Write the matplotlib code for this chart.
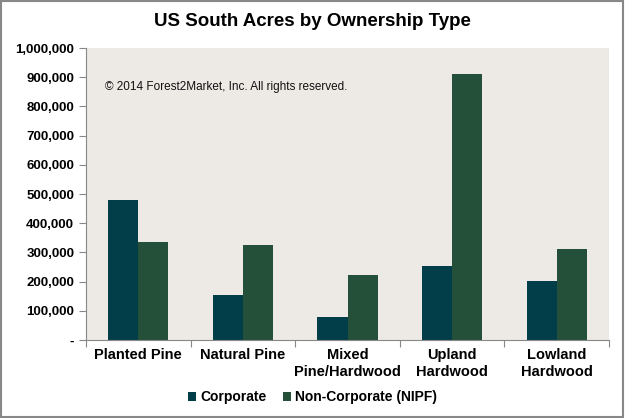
import numpy as np
import matplotlib
matplotlib.use('Agg')
from matplotlib import pyplot as plt
from matplotlib.patches import Rectangle
from matplotlib.ticker import FuncFormatter

# 数据
categories = ['Planted Pine', 'Natural Pine', 'Mixed\nPine/Hardwood', 'Upland\nHardwood', 'Lowland\nHardwood']
corporate = [478000, 154000, 78000, 253000, 202000]
non_corporate = [336000, 324000, 222000, 911000, 311000]
series_names = ['Corporate', 'Non-Corporate (NIPF)']
y_ticks = np.arange(0, 1000001, 100000)

plt.rcParams['font.family'] = ['Liberation Sans', 'DejaVu Sans']

fig = plt.figure(figsize=(6.25, 4.18), dpi=100)
ax = fig.add_axes([0.1376, 0.1866, 0.8368, 0.6984])
ax.set_facecolor('#EDEAE6')

x = np.arange(len(categories))
w = 0.287
ax.bar(x - w / 2, corporate, w, color='#023E4A', label=series_names[0])
ax.bar(x + w / 2, non_corporate, w, color='#24503A', label=series_names[1])

ax.set_xlim(-0.5, len(categories) - 0.5)
ax.set_ylim(0, 1000000)
ax.set_yticks(y_ticks)
ax.yaxis.set_major_formatter(FuncFormatter(lambda v, p: '-' if v == 0 else f'{int(v):,}'))
ax.tick_params(axis='y', labelsize=9.5, length=5, color='#888888', direction='out')
for lb in ax.get_yticklabels():
    lb.set_fontweight('bold')

# x轴：刻度在分类边界
ax.set_xticks(np.arange(-0.5, len(categories), 1.0))
ax.set_xticklabels([])
ax.set_xticks(x, minor=True)
ax.set_xticklabels(categories, minor=True, fontsize=10.5, fontweight='bold')
ax.tick_params(axis='x', which='minor', length=0, pad=6)
ax.tick_params(axis='x', which='major', length=5, color='#888888')

for s in ['top', 'right']:
    ax.spines[s].set_visible(False)
for s in ['left', 'bottom']:
    ax.spines[s].set_color('#888888')

ax.text(0.037, 0.855, '\u00a9 2014 Forest2Market, Inc. All rights reserved.',
        transform=ax.transAxes, fontsize=8.5, color='#111111')

fig.suptitle('US South Acres by Ownership Type', x=0.5, y=0.968, fontsize=13.5, fontweight='bold')

leg = fig.legend(loc='center', bbox_to_anchor=(0.5, 0.05), ncol=2, frameon=False,
                 fontsize=10, handlelength=0.6, handleheight=0.6, handletextpad=0.3,
                 columnspacing=1.2)
for t in leg.get_texts():
    t.set_fontweight('bold')

fig.patches.append(Rectangle((0.002, 0.003), 0.995, 0.994, transform=fig.transFigure,
                             fill=False, edgecolor='#888888', linewidth=1.5))

plt.savefig('out.png', dpi=100)
